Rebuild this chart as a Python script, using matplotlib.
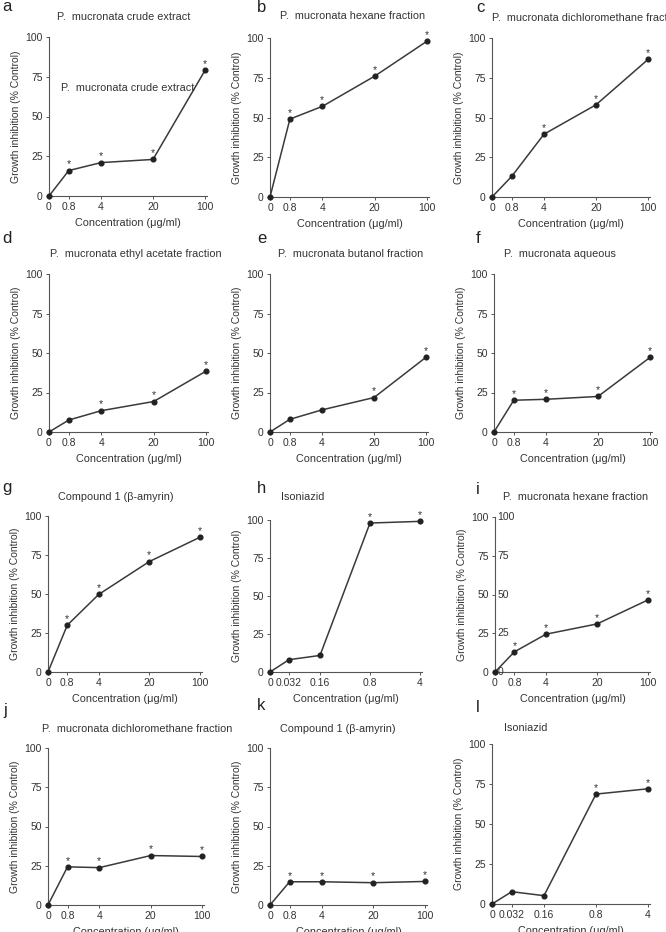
import numpy as np
import matplotlib
matplotlib.use("Agg")
import matplotlib.pyplot as plt

plt.rcParams['font.family'] = ['Liberation Sans', 'DejaVu Sans']

# Concentration labels (categorical x axis)
concLabels = ["0", "0.8", "4", "20", "100"]
inhLabels = ["0", "0.032", "0.16", "0.8", "4"]

# Growth inhibition values (% control), one list per panel
crudeVals = [0, 16, 21, 23, 79]
hexaneVals = [0, 49, 57, 76, 98]
dcmVals = [0, 13, 39.5, 58, 86.5]
ethylVals = [0, 7.6, 13.5, 19.3, 38.5]
butanolVals = [0, 8, 14, 21.8, 47.3]
aqueousVals = [0, 20.1, 20.7, 22.5, 47.2]
amyrinVals = [0, 30, 49.7, 70.8, 86.4]
isoniazidVals = [0, 8.1, 10.9, 98, 99.1]
hexane2Vals = [0, 13, 24.4, 31, 46.5]
dcm2Vals = [0, 24.3, 23.8, 31.5, 30.9]
amyrin2Vals = [0, 14.8, 14.8, 14.2, 15]
isoniazid2Vals = [0, 7.7, 5.2, 68.7, 72]

# Significance stars (1 = star above the point)
crudeStars = [0, 1, 1, 1, 1]
hexaneStars = [0, 1, 1, 1, 1]
dcmStars = [0, 0, 1, 1, 1]
ethylStars = [0, 0, 1, 1, 1]
butanolStars = [0, 0, 0, 1, 1]
aqueousStars = [0, 1, 1, 1, 1]
amyrinStars = [0, 1, 1, 1, 1]
isoniazidStars = [0, 0, 0, 1, 1]
hexane2Stars = [0, 1, 1, 1, 1]
dcm2Stars = [0, 1, 1, 1, 1]
amyrin2Stars = [0, 1, 1, 1, 1]
isoniazid2Stars = [0, 0, 0, 1, 1]

letters = ["a", "b", "c", "d", "e", "f", "g", "h", "i", "j", "k", "l"]
titles = ["P.  mucronata crude extract",
          "P.  mucronata hexane fraction",
          "P.  mucronata dichloromethane fraction",
          "P.  mucronata ethyl acetate fraction",
          "P.  mucronata butanol fraction",
          "P.  mucronata aqueous",
          "Compound 1 (\u03b2-amyrin)",
          "Isoniazid",
          "P.  mucronata hexane fraction",
          "P.  mucronata dichloromethane fraction",
          "Compound 1 (\u03b2-amyrin)",
          "Isoniazid"]

panels = [(crudeVals, crudeStars, concLabels),
          (hexaneVals, hexaneStars, concLabels),
          (dcmVals, dcmStars, concLabels),
          (ethylVals, ethylStars, concLabels),
          (butanolVals, butanolStars, concLabels),
          (aqueousVals, aqueousStars, concLabels),
          (amyrinVals, amyrinStars, concLabels),
          (isoniazidVals, isoniazidStars, inhLabels),
          (hexane2Vals, hexane2Stars, concLabels),
          (dcm2Vals, dcm2Stars, concLabels),
          (amyrin2Vals, amyrin2Stars, concLabels),
          (isoniazid2Vals, isoniazid2Stars, inhLabels)]

# Layout in pixels: (x of first tick, x of last tick, y of 100, y of 0)
W, H = 666, 932
rects = [(49, 205, 37, 196), (270, 427, 38, 197), (492, 648, 38, 197),
         (49, 206, 274, 432), (270, 426, 274, 432), (494, 650, 274, 432),
         (48, 200, 516, 672), (270, 420, 520, 672), (495, 648, 517, 672),
         (48, 202, 748, 905), (270, 425, 748, 905), (492, 648, 744, 904)]
# title anchor (x, y centre, ha)
titlePos = [(124, 17, "center"), (353, 16, "center"), (492, 18, "left"),
            (136, 254, "center"), (351, 254, "center"), (560, 254, "center"),
            (116, 497, "center"), (281, 497, "left"), (576, 497, "center"),
            (42, 729, "left"), (338, 729, "center"), (504, 728, "left")]
letterPos = [(2, 11), (257, 12), (476, 12),
             (2, 243), (257, 243), (476, 243),
             (2, 492), (257, 493), (476, 494),
             (3, 715), (257, 710), (476, 712)]

xpos = [0, 0.38, 1, 2, 3]
xmax = 3.04
textCol = "#333333"
lineCol = "#3a3a3a"

fig = plt.figure(figsize=(W / 100, H / 100), dpi=100)

for i, (vals, stars, labels) in enumerate(panels):
    x0, x3, ytop, ybot = rects[i]
    right = x0 + (x3 - x0) * xmax / 3
    ax = fig.add_axes([x0 / W, 1 - ybot / H, (right - x0) / W, (ybot - ytop) / H])
    ax.plot(xpos, vals, color=lineCol, lw=1.1, marker="o", ms=3.4,
            mfc="#222222", mec="#222222", clip_on=False, zorder=3)
    for xp, v, s in zip(xpos, vals, stars):
        if s:
            ax.text(xp, v + 2, "*", ha="center", va="baseline", fontsize=7.5,
                    color=textCol)
    ax.set_xlim(0, xmax)
    ax.set_ylim(0, 100)
    ax.set_xticks(xpos)
    ax.set_xticklabels(labels)
    ax.set_yticks([0, 25, 50, 75, 100])
    ax.spines["top"].set_visible(False)
    ax.spines["right"].set_visible(False)
    for sp in ["left", "bottom"]:
        ax.spines[sp].set_linewidth(0.8)
        ax.spines[sp].set_color("#555555")
    ax.tick_params(direction="out", length=2.5, width=0.7, colors="#555555",
                   labelsize=7.5, labelcolor=textCol, pad=2)
    ax.set_xlabel("Concentration (\u03bcg/ml)", fontsize=7.8, color=textCol,
                  labelpad=4)
    ax.set_ylabel("Growth inhibition (% Control)", fontsize=7.5, color=textCol,
                  labelpad=3)

    tx, ty, ha = titlePos[i]
    fig.text(tx / W, 1 - ty / H, titles[i], ha=ha, va="center", fontsize=7.8,
             color=textCol)
    lx, ly = letterPos[i]
    fig.text(lx / W, 1 - ly / H, letters[i], ha="left", va="baseline",
             fontsize=12, color="#222222")

    if i == 0:
        # stray duplicate label inside panel a
        ax.text(0.5, 68, titles[0], ha="center", va="center", fontsize=7.8,
                color=textCol, transform=ax.get_yaxis_transform())
    if i == 8:
        # duplicated y tick labels drawn inside panel i
        for t in [0, 25, 50, 75, 100]:
            ax.text(0.015, t, str(t), ha="left", va="center", fontsize=7.5,
                    color=textCol, transform=ax.get_yaxis_transform())

fig.savefig("out.png", dpi=100)
